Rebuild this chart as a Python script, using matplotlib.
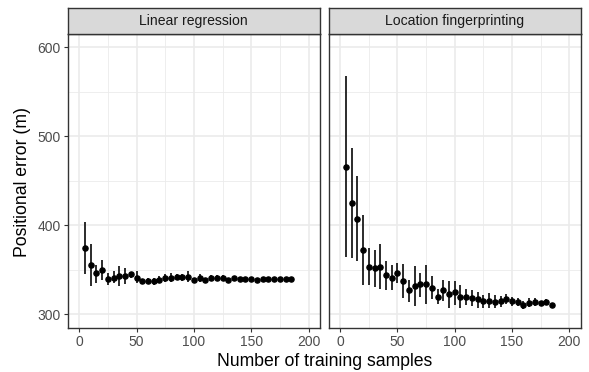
import matplotlib
matplotlib.use("Agg")
import matplotlib.pyplot as plt
import numpy as np

plt.rcParams['font.family'] = ['Liberation Sans', 'DejaVu Sans']

samples = list(range(5, 190, 5))

panels = ["Linear regression", "Location fingerprinting"]

lr_mean = [375, 356, 346, 350, 340, 341, 343, 343, 345, 341.4, 337.3, 338, 337.3, 338.8, 340.7,
           341.4, 341.8, 341.8, 342, 338.8, 340.3, 338.4, 340.7, 341, 341.4, 338.4, 340.3, 340,
           340, 339.6, 338.5, 339.6, 339.6, 339.6, 339.6, 339.2, 339.2]
lr_low = [345, 331.7, 335.5, 338.4, 333, 334.7, 331.7, 334, 341, 334.7, 334, 334.7, 333, 334.7, 336,
          336.6, 338.4, 338, 336, 336, 336, 336, 338, 338.4, 338.4, 336, 337, 337.5,
          337.5, 337.5, 336.5, 337.5, 337.5, 337.5, 337.5, 337.5, 337.5]
lr_high = [403.7, 379.5, 356, 361, 347, 348.5, 354, 352, 348, 348.5, 340, 341, 341.4, 343, 345,
           346, 345, 345, 349, 341.4, 345, 340.7, 343.7, 343.7, 344.4, 341, 343.5, 342.5,
           342.5, 342, 340.5, 341.7, 341.7, 341.7, 341.7, 341, 341]

lf_mean = [465.7, 425, 407, 372.4, 353.7, 352, 353.7, 343.7, 341, 346.6, 338, 327.2, 331.7, 334,
           334, 329.9, 319.8, 327.2, 323, 325, 319.8, 319.4, 318.3, 316.8, 314.6, 315.3, 313.8,
           315, 317.5, 314.6, 313.8, 310, 313, 313.8, 312.7, 313.8, 310.8]
lf_low = [364, 363.4, 359.7, 332.5, 332.5, 331, 328, 327.2, 327, 334.7, 318.3, 314, 309.3, 319.8,
          312, 316.8, 311.2, 315, 307.5, 310.8, 307, 310, 309.3, 307.5, 307.5, 307, 307.5,
          308.6, 312, 309.7, 309.3, 305.6, 307.8, 309.3, 310, 310.8, 309.5]
lf_high = [567.5, 486.6, 455, 411.6, 374, 372, 379.5, 360.4, 355, 358, 357, 339, 354, 346.6,
           355.6, 343, 328, 339, 337.7, 338, 332.5, 328, 326.9, 325, 321.3, 324.3, 321.3,
           321, 323, 319, 318.3, 314.6, 318.3, 318.3, 315.3, 317.5, 312.5]

x_ticks = [0, 50, 100, 150, 200]
y_ticks = [300, 400, 500, 600]
x_label = "Number of training samples"
y_label = "Positional error (m)"

W, H = 589, 372
fig = plt.figure(figsize=(W / 100, H / 100), dpi=100)

panel_rects = [(67.7, 320.0), (328.7, 580.7)]
top_px, bot_px, strip_top_px = 34.0, 327.7, 8.3

data = [(lr_mean, lr_low, lr_high), (lf_mean, lf_low, lf_high)]

for i, ((l, r), title, (m, lo, hi)) in enumerate(zip(panel_rects, panels, data)):
    ax = fig.add_axes([l / W, 1 - bot_px / H, (r - l) / W, (bot_px - top_px) / H])
    ax.set_facecolor("white")
    ax.set_xlim(-10, 210)
    ax.set_ylim(285, 615)
    for v in [25, 75, 125, 175]:
        ax.axvline(v, color="#EBEBEB", lw=0.6, zorder=0)
    for v in [350, 450, 550]:
        ax.axhline(v, color="#EBEBEB", lw=0.6, zorder=0)
    for v in x_ticks:
        ax.axvline(v, color="#EBEBEB", lw=1.2, zorder=0)
    for v in y_ticks:
        ax.axhline(v, color="#EBEBEB", lw=1.2, zorder=0)
    m = np.array(m); lo = np.array(lo); hi = np.array(hi)
    ax.errorbar(samples, m, yerr=[m - lo, hi - m], fmt="o", color="black",
                ecolor="#1a1a1a", elinewidth=1.3, markersize=3.7, capsize=0, zorder=3)
    ax.set_xticks(x_ticks)
    ax.set_yticks(y_ticks)
    ax.tick_params(axis="both", colors="#333333", labelcolor="#4D4D4D", labelsize=10,
                   length=3, width=0.8, pad=2)
    if i == 1:
        ax.tick_params(axis="y", left=False, labelleft=False)
    for s in ax.spines.values():
        s.set_color("#333333")
        s.set_linewidth(1.0)
    # strip
    sax = fig.add_axes([l / W, 1 - top_px / H, (r - l) / W, (top_px - strip_top_px) / H])
    sax.set_facecolor("#D9D9D9")
    sax.set_xticks([]); sax.set_yticks([])
    for s in sax.spines.values():
        s.set_color("#333333")
        s.set_linewidth(1.0)
    sax.text(0.5, 0.5, title, ha="center", va="center", fontsize=10.1, color="#1A1A1A",
             transform=sax.transAxes)

fig.text((67.7 + 580.7) / 2 / W, 1 - 365.7 / H, x_label, ha="center", va="baseline",
         fontsize=12.7, color="black")
fig.text(22.5 / W, 1 - 182 / H, y_label, ha="center", va="center", rotation=90,
         fontsize=12.7, color="black")

fig.savefig("out.png", dpi=100, facecolor="white")
